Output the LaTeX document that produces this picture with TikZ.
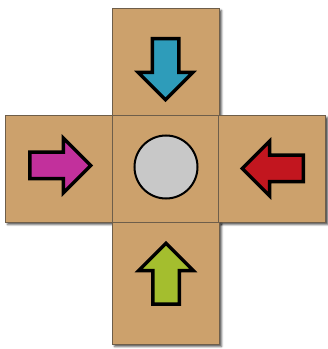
\documentclass[tikz,border=0pt]{standalone}
\usepackage{tikz}
\usetikzlibrary{shapes.arrows, shadows.blur}
\definecolor{TileTan}{HTML}{CCA16C}
\definecolor{TileEdge}{HTML}{6E5E4A}
\definecolor{ArrowBlue}{HTML}{2E9CBA}
\definecolor{ArrowPink}{HTML}{C2309C}
\definecolor{ArrowRed}{HTML}{C2161F}
\definecolor{ArrowGreen}{HTML}{A4BE2E}
\definecolor{BallGrey}{HTML}{C8C8C8}

\begin{document}
\begin{tikzpicture}[x=1pt, y=1pt,
    tile/.style={draw=TileEdge, line width=0.6pt, fill=TileTan, inner sep=0pt,
        minimum width=107pt, minimum height=107pt,
        blur shadow={shadow xshift=2.5pt, shadow yshift=-2.5pt, shadow opacity=70, shadow blur radius=2pt}},
    arrowicon/.style={single arrow, draw=black, line width=3.5pt, inner xsep=0pt, inner ysep=11.5pt,
        minimum height=61pt, single arrow head extend=14pt, single arrow tip angle=90,
        single arrow head indent=0pt, anchor=tail}]
    \useasboundingbox (0,0) rectangle (328,349);

    % Tiles of the cross
    \node[tile] (top) at (165.5, 287.5) {};
    \node[tile] (left) at (58.5, 180.5) {};
    \node[tile] (centre) at (165.5, 180.5) {};
    \node[tile] (right) at (272, 180.5) {};
    \node[tile, minimum height=122pt] (bottom) at (165.5, 66) {};

    % Arrows pointing to the middle
    \node[arrowicon, fill=ArrowBlue, rotate=-90] (down) at (165.5, 312) {};
    \node[arrowicon, fill=ArrowPink] (east) at (28, 183.5) {};
    \node[arrowicon, fill=ArrowRed, rotate=180] (west) at (305, 180.5) {};
    \node[arrowicon, fill=ArrowGreen, rotate=90] (up) at (166, 43) {};

    % Ball in the centre tile
    \node[circle, draw=black, line width=2pt, fill=BallGrey, minimum size=63pt, inner sep=0pt] (ball) at (166, 182) {};
\end{tikzpicture}
\end{document}
